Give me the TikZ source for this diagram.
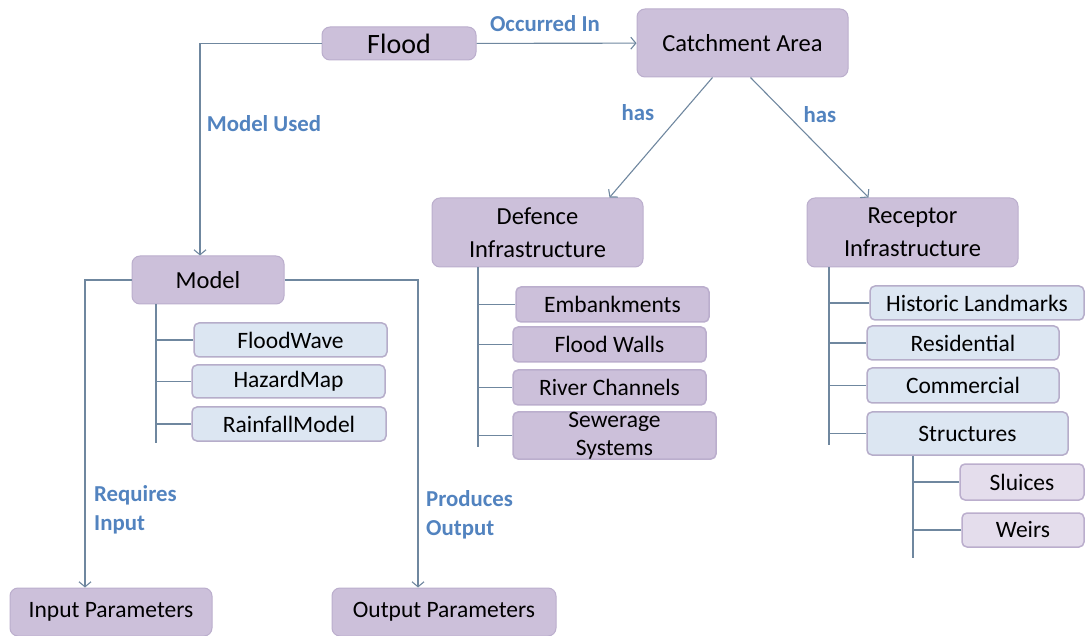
\documentclass[tikz,border=0pt]{standalone}
\usepackage{fontspec}
\setmainfont{Carlito}
\usetikzlibrary{positioning,arrows.meta}
\definecolor{linkline}{HTML}{6F879F}
\definecolor{mauve}{HTML}{CCC0DA}
\definecolor{mauveedge}{HTML}{BBAECD}
\definecolor{paleblue}{HTML}{DCE6F2}
\definecolor{paleedge}{HTML}{B6ADCA}
\definecolor{palemauve}{HTML}{E4DDEC}
\definecolor{tagblue}{HTML}{5283BF}

\begin{document}
\begin{tikzpicture}[x=1pt,y=-1pt,
  concept/.style={draw=mauveedge, fill=mauve, rounded corners=8pt, line width=1pt,
                  inner sep=0pt, align=center, font=\fontsize{24.5}{33}\selectfont},
  item/.style={draw=paleedge, fill=paleblue, rounded corners=5pt, line width=1.5pt,
               inner sep=0pt, align=center, font=\fontsize{23.5}{28}\selectfont},
  defitem/.style={item, fill=mauve, draw=mauveedge},
  subitem/.style={item, fill=palemauve, draw=mauveedge},
  link/.style={draw=linkline, line width=1.1pt},
  arrow/.style={link, -{Straight Barb[length=5pt,width=12pt]}},
  tag/.style={text=tagblue, font=\bfseries\fontsize{22.8}{29}\selectfont, align=left, inner sep=0pt},
]
  \useasboundingbox (0,0) rectangle (1085,636);

  % top row
  \node[concept, minimum width=154pt, minimum height=33pt, font=\fontsize{28}{30}\selectfont]
    (flood) at (399,43.5) {Flood};
  \node[concept, minimum width=211pt, minimum height=68pt] (catch) at (742.5,43) {Catchment Area};

  % model branch
  \node[concept, minimum width=152pt, minimum height=48pt] (model) at (208,280) {Model};
  \node[concept, minimum width=202pt, minimum height=48pt, font=\fontsize{23.5}{28}\selectfont]
    (inparam) at (111,612) {Input Parameters};
  \node[concept, minimum width=224pt, minimum height=48pt, font=\fontsize{23.5}{28}\selectfont]
    (outparam) at (444,612) {Output Parameters};
  \node[item, minimum width=193pt, minimum height=34pt] (floodwave) at (290.5,340) {FloodWave};
  \node[item, minimum width=193pt, minimum height=33pt] (hazard) at (288.5,381.5) {HazardMap};
  \node[item, minimum width=194pt, minimum height=34pt] (rainfall) at (289,424) {RainfallModel};

  % infrastructure
  \node[concept, minimum width=211pt, minimum height=69pt] (defence) at (537.5,232.5) {Defence\\Infrastructure};
  \node[concept, minimum width=211pt, minimum height=69pt] (receptor) at (912.5,232.5) {Receptor\\Infrastructure};

  \node[defitem, minimum width=193pt, minimum height=35pt] (embank) at (612.5,304.5) {Embankments};
  \node[defitem, minimum width=193pt, minimum height=35pt] (walls) at (609.5,344.5) {Flood Walls};
  \node[defitem, minimum width=193pt, minimum height=35pt] (river) at (609.5,387.5) {River Channels};
  \node[defitem, minimum width=203pt, minimum height=45pt] (sewer) at (614.5,435.5) {Sewerage\\Systems};

  \node[item, minimum width=214pt, minimum height=34pt] (historic) at (977,303) {Historic Landmarks};
  \node[item, minimum width=192pt, minimum height=34pt] (resid) at (963,343) {Residential};
  \node[item, minimum width=192pt, minimum height=35pt] (commerc) at (963,385.5) {Commercial};
  \node[item, minimum width=201pt, minimum height=43pt] (struct) at (967.5,433.5) {Structures};
  \node[subitem, minimum width=124pt, minimum height=36pt] (sluices) at (1022,482) {Sluices};
  \node[subitem, minimum width=122pt, minimum height=34pt] (weirs) at (1023,530) {Weirs};

  % relations
  \draw[arrow] (flood) -- (catch);
  \draw[arrow] (flood.west) -| ([xshift=-8pt]model.north);
  \draw[arrow] (model.west) -| ([xshift=-26pt]inparam.north);
  \draw[arrow] (model.east) -| ([xshift=-26pt]outparam.north);
  \draw[arrow] ([xshift=-30pt]catch.south) -- ([xshift=72pt]defence.north);
  \draw[arrow] ([xshift=8pt]catch.south) -- ([xshift=-44pt]receptor.north);

  \node[tag] (occurred) at (545,24) {Occurred In};
  \node[tag] (used) at (264,124) {Model Used};
  \node[tag] (hasdef) at (638,113) {has};
  \node[tag] (hasrec) at (820,115) {has};
  \node[tag, anchor=west] (requires) at (94,510) {Requires\\Input};
  \node[tag, anchor=west] (produces) at (426,515) {Produces\\Output};

  % trees
  \coordinate (modelend) at (156,443);
  \coordinate (defend) at (478,447);
  \coordinate (recend) at (829,445);
  \coordinate (structend) at (913,558);
  \draw[link] (model.south -| modelend) -- (modelend);
  \draw[link] (defence.south -| defend) -- (defend);
  \draw[link] (receptor.south -| recend) -- (recend);
  \draw[link] (struct.south -| structend) -- (structend);
  \foreach \leaf in {floodwave,hazard,rainfall}
    \draw[link] (\leaf.west) -- (\leaf.west -| modelend);
  \foreach \leaf in {embank,walls,river,sewer}
    \draw[link] (\leaf.west) -- (\leaf.west -| defend);
  \foreach \leaf in {historic,resid,commerc,struct}
    \draw[link] (\leaf.west) -- (\leaf.west -| recend);
  \foreach \leaf in {sluices,weirs}
    \draw[link] (\leaf.west) -- (\leaf.west -| structend);
\end{tikzpicture}
\end{document}
